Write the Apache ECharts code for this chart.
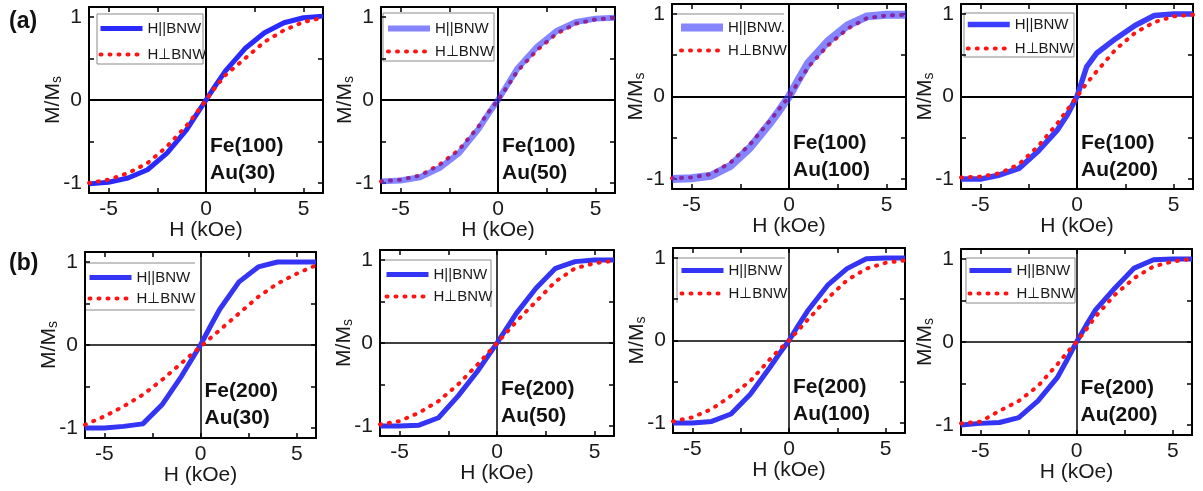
<!DOCTYPE html>
<html>
<head>
<meta charset="utf-8">
<script src="https://cdn.jsdelivr.net/npm/echarts@6/dist/echarts.min.js"></script>
<style>
  html, body { margin: 0; padding: 0; background: #fff; }
  #chart { width: 1203px; height: 491px; }
</style>
</head>
<body>
<div id="chart"></div>
<script>
// field, kOe
const H = [-6, -5, -4, -3, -2, -1, -0.5, 0, 0.5, 1, 2, 3, 4, 5, 6]

// M/Ms, row (a) Fe(100)
const fe100au30Par = [-1.01, -0.99, -0.94, -0.84, -0.64, -0.36, -0.18, 0, 0.18, 0.35, 0.62, 0.81, 0.93, 0.99, 1.01]
const fe100au30Perp = [-1.0, -0.96, -0.88, -0.76, -0.56, -0.31, -0.16, 0, 0.16, 0.3, 0.5, 0.7, 0.84, 0.94, 0.99]
const fe100au50Par = [-0.98, -0.97, -0.93, -0.82, -0.64, -0.35, -0.17, 0, 0.19, 0.38, 0.64, 0.83, 0.94, 0.98, 0.99]
const fe100au50Perp = [-0.98, -0.96, -0.91, -0.78, -0.6, -0.32, -0.15, 0, 0.17, 0.35, 0.6, 0.8, 0.92, 0.97, 0.99]
const fe100au100Par = [-1.0, -0.99, -0.96, -0.84, -0.62, -0.33, -0.17, 0, 0.21, 0.41, 0.67, 0.86, 0.97, 0.99, 0.99]
const fe100au100Perp = [-0.99, -0.98, -0.94, -0.8, -0.58, -0.3, -0.15, 0, 0.18, 0.36, 0.62, 0.82, 0.95, 0.98, 0.99]
const fe100au200Par = [-1.0, -1.0, -0.95, -0.87, -0.66, -0.4, -0.22, 0, 0.36, 0.52, 0.7, 0.86, 0.98, 1.0, 1.0]
const fe100au200Perp = [-0.98, -0.97, -0.93, -0.82, -0.6, -0.32, -0.16, 0, 0.16, 0.3, 0.57, 0.77, 0.9, 0.97, 0.99]

// row (b) Fe(200)
const fe200au30Par = [-1.0, -1.0, -0.98, -0.95, -0.72, -0.38, -0.19, 0, 0.22, 0.43, 0.76, 0.94, 1.0, 1.0, 1.0]
const fe200au30Perp = [-0.96, -0.86, -0.74, -0.6, -0.42, -0.22, -0.12, -0.02, 0.08, 0.18, 0.38, 0.58, 0.74, 0.86, 0.96]
const fe200au50Par = [-1.0, -1.0, -0.99, -0.9, -0.64, -0.34, -0.17, 0, 0.18, 0.36, 0.66, 0.9, 0.98, 1.0, 1.0]
const fe200au50Perp = [-0.98, -0.94, -0.84, -0.7, -0.5, -0.26, -0.13, 0, 0.13, 0.26, 0.5, 0.74, 0.9, 0.96, 0.99]
const fe200au100Par = [-1.0, -1.0, -0.98, -0.89, -0.65, -0.33, -0.16, 0, 0.19, 0.37, 0.67, 0.87, 0.99, 1.0, 1.0]
const fe200au100Perp = [-0.98, -0.93, -0.83, -0.67, -0.49, -0.23, -0.11, 0, 0.13, 0.26, 0.51, 0.73, 0.87, 0.94, 0.97]
const fe200au200Par = [-1.0, -0.98, -0.97, -0.91, -0.71, -0.43, -0.22, 0, 0.2, 0.39, 0.65, 0.89, 0.99, 1.0, 1.0]
const fe200au200Perp = [-0.98, -0.96, -0.83, -0.71, -0.53, -0.27, -0.13, 0, 0.15, 0.31, 0.57, 0.77, 0.91, 0.97, 1.0]

const parSets = [fe100au30Par, fe100au50Par, fe100au100Par, fe100au200Par, fe200au30Par, fe200au50Par, fe200au100Par, fe200au200Par]
const perpSets = [fe100au30Perp, fe100au50Perp, fe100au100Perp, fe100au200Perp, fe200au30Perp, fe200au50Perp, fe200au100Perp, fe200au200Perp]
const sampleNames = [
  'Fe(100)\nAu(30)', 'Fe(100)\nAu(50)', 'Fe(100)\nAu(100)', 'Fe(100)\nAu(200)',
  'Fe(200)\nAu(30)', 'Fe(200)\nAu(50)', 'Fe(200)\nAu(100)', 'Fe(200)\nAu(200)',
]
const parNames = ['H||BNW', 'H||BNW', 'H||BNW.', 'H||BNW', 'H||BNW', 'H||BNW', 'H||BNW', 'H||BNW']
const perpName = 'H⊥BNW'
const xTicks = [-5, 0, 5]
const yTicks = [-1, 0, 1]
const rowLabels = ['(a)', '(b)']

// panel placement (pixels), legend box relative to the plot area
const layout = [
  { left: 89, top: 7, width: 234, height: 186, blue: '#2a2aff', bw: 5, op: 1, box: [8, 7, 106, 50], edges: 'tlbr', lx: 9, c1: 21, step: 25 },
  { left: 381, top: 7, width: 234, height: 186, blue: '#3333ff', bw: 6, op: 0.6, box: [2, 6, 111, 48], edges: 'tlbr', lx: 4, c1: 21, step: 22 },
  { left: 672, top: 4, width: 234, height: 185, blue: '#3333ff', bw: 8, op: 0.6, box: [4, 10, 108, 45], edges: 't', lx: 5, c1: 23, step: 22 },
  { left: 961, top: 4, width: 232, height: 185, blue: '#3c3cff', bw: 5.5, op: 1, box: [3, 9, 110, 44], edges: 'tlbr', lx: 4, c1: 20, step: 23 },
  { left: 85, top: 252, width: 231, height: 186, blue: '#3434f4', bw: 5, op: 1, box: [1, 11, 109, 47], edges: 'tb', lx: 2, c1: 25, step: 20 },
  { left: 380, top: 250, width: 234, height: 186, blue: '#3434f4', bw: 5, op: 1, box: [3, 10, 108, 47], edges: 'tr', lx: 4, c1: 24, step: 21 },
  { left: 673, top: 248, width: 232, height: 185, blue: '#3434f4', bw: 5, op: 1, box: [4, 10, 108, 45], edges: 'tl', lx: 6, c1: 22, step: 22 },
  { left: 961, top: 249, width: 231, height: 186, blue: '#3434f4', bw: 5, op: 1, box: [5, 9, 109, 45], edges: 'tlbr', lx: 6, c1: 21, step: 22 },
]

const font = 'Liberation Sans'
const ink = '#1a1a1a'
const grid = [], xAxis = [], yAxis = [], series = [], legend = [], graphic = []

layout.forEach((p, i) => {
  grid.push({ left: p.left, top: p.top, width: p.width, height: p.height })

  const frame = { onZero: false, lineStyle: { color: '#000', width: 2 } }
  const tickX = { inside: true, length: 5, customValues: [-5, -2.5, 0, 2.5, 5], lineStyle: { color: '#000', width: 1.5 } }
  const tickY = { inside: true, length: 5, customValues: [-1, -0.5, 0, 0.5, 1], lineStyle: { color: '#000', width: 1.5 } }
  const xBase = { gridIndex: i, type: 'value', min: -6, max: 6, axisLine: frame, axisTick: tickX, splitLine: { show: false } }
  const yBase = { gridIndex: i, type: 'value', min: -1.12, max: 1.12, axisLine: frame, axisTick: tickY, splitLine: { show: false } }

  xAxis.push({
    ...xBase, position: 'bottom',
    axisLabel: { customValues: xTicks, fontSize: 21, color: ink, margin: 6, fontFamily: font },
    name: 'H (kOe)', nameLocation: 'middle', nameGap: 27, nameMoveOverlap: false,
    nameTextStyle: { fontSize: 21, color: ink, fontFamily: font },
  })
  xAxis.push({ ...xBase, position: 'top', axisLabel: { show: false } })
  yAxis.push({
    ...yBase, position: 'left',
    axisLabel: { customValues: yTicks, fontSize: 21, color: ink, margin: 7, fontFamily: font },
    name: '{a|M/M}{b|s}', nameLocation: 'middle', nameGap: 25, nameMoveOverlap: false,
    nameTextStyle: {
      color: ink, fontFamily: font,
      rich: { a: { fontSize: 21, fontFamily: font, color: ink }, b: { fontSize: 14, fontFamily: font, color: ink, verticalAlign: 'bottom', padding: [8, 0, 0, 0] } },
    },
  })
  yAxis.push({ ...yBase, position: 'right', axisLabel: { show: false } })

  const parId = parNames[i] + '#' + i
  const perpId = perpName + '#' + i
  const zero = {
    silent: true, symbol: 'none', z: 1, animation: false,
    label: { show: false },
    lineStyle: { color: '#000', width: i < 4 ? 2 : 1.5, type: 'solid' },
    data: [{ xAxis: 0 }, { yAxis: 0 }],
  }
  const par = {
    name: parId, type: 'line', xAxisIndex: 2 * i, yAxisIndex: 2 * i, z: 3,
    data: H.map((h, k) => [h, parSets[i][k]]),
    symbol: 'none', lineStyle: { color: p.blue, width: p.bw, opacity: p.op, join: 'round' },
    itemStyle: { color: p.blue, opacity: 0 },
  }
  const perp = {
    name: perpId, type: 'line', xAxisIndex: 2 * i, yAxisIndex: 2 * i, z: 3,
    data: H.map((h, k) => [h, perpSets[i][k]]),
    symbol: 'none', lineStyle: { color: '#ff1414', width: 4, type: [1, 8], cap: 'round' },
    itemStyle: { color: '#ff1414', opacity: 0 },
  }
  // translucent blue drawn over the red dots in the middle panels
  if (p.op < 1) { perp.markLine = zero; series.push(perp, par) }
  else { par.markLine = zero; series.push(par, perp) }

  legend.push({
    orient: 'vertical', left: p.left + p.lx, top: p.top + p.c1 - 7, padding: 0,
    itemWidth: 42, itemHeight: 14, itemGap: p.step - 14,
    data: [parId, perpId], selectedMode: false,
    formatter: name => name.split('#')[0],
    itemStyle: { opacity: 0 },
    lineStyle: { width: 'inherit' },
    textStyle: { fontSize: 15, color: ink, fontFamily: font },
  })

  // legend frame, only the edges present in the figure
  const [bx, by, bw, bh] = p.box
  const x1 = p.left + bx, y1 = p.top + by, x2 = x1 + bw, y2 = y1 + bh
  const edge = { t: [x1, y1, x2, y1], b: [x1, y2, x2, y2], l: [x1, y1, x1, y2], r: [x2, y1, x2, y2] }
  p.edges.split('').forEach(e => {
    const [ax, ay, cx, cy] = edge[e]
    graphic.push({ type: 'line', silent: true, shape: { x1: ax, y1: ay, x2: cx, y2: cy }, style: { stroke: '#8a8a8a', lineWidth: 1 } })
  })

  graphic.push({
    type: 'text', silent: true, z: 10,
    x: p.left + p.width / 2 + 4, y: p.top + p.height / 2 + 33,
    style: { text: sampleNames[i], font: 'bold 21px "Liberation Sans"', fill: '#111', lineHeight: 27 },
  })
})

rowLabels.forEach((t, r) => {
  graphic.push({
    type: 'text', silent: true, x: 9, y: r === 0 ? 10 : 252,
    style: { text: t, font: 'bold 23px "Liberation Sans"', fill: '#111' },
  })
})

const chart = echarts.init(document.getElementById('chart'), null, { renderer: 'canvas' })
chart.setOption({
  animation: false,
  backgroundColor: '#fff',
  textStyle: { fontFamily: font },
  grid, xAxis, yAxis, series, legend, graphic,
})
</script>
</body>
</html>
